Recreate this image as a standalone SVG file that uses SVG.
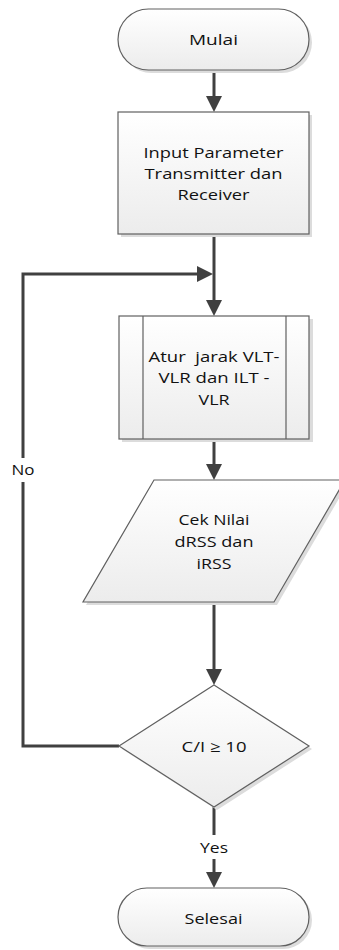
<svg xmlns="http://www.w3.org/2000/svg" width="339" height="950" viewBox="0 0 339 950">
<style>
.shape{fill:url(#g);stroke:#606060;stroke-width:1.2}
.shadow{fill:#dcdcdc}
.conn{fill:none;stroke:#404040;stroke-width:3}
.lbl{font-family:"Open Sans","Noto Sans",sans-serif;font-size:15px;fill:#111;text-anchor:middle}
</style>
<defs>
<linearGradient id="g" x1="0" y1="0" x2="0" y2="1">
<stop offset="0" stop-color="#ffffff"/>
<stop offset="1" stop-color="#ececec"/>
</linearGradient>
<marker id="ah" markerUnits="userSpaceOnUse" markerWidth="16" markerHeight="16" refX="12" refY="8" orient="auto">
<path d="M0,0 L16,8 L0,16 z" fill="#404040"/>
</marker>
</defs>
<rect width="339" height="950" fill="#fff"/>
<g id="connectors">
<line class="conn" x1="214" y1="70" x2="214" y2="108" marker-end="url(#ah)"/>
<line class="conn" x1="214" y1="234" x2="214" y2="312" marker-end="url(#ah)"/>
<path class="conn" d="M119,746 H23 V274 H209" marker-end="url(#ah)"/>
<line class="conn" x1="214" y1="439" x2="214" y2="476" marker-end="url(#ah)"/>
<line class="conn" x1="214" y1="602" x2="214" y2="681" marker-end="url(#ah)"/>
<line class="conn" x1="214" y1="807" x2="214" y2="884" marker-end="url(#ah)"/>
<rect x="8" y="458" width="32" height="24" fill="#fff"/>
<text class="lbl" x="23" y="475" textLength="23" lengthAdjust="spacingAndGlyphs">No</text>
<rect x="196" y="835" width="36" height="24" fill="#fff"/>
<text class="lbl" x="214" y="853" textLength="28" lengthAdjust="spacingAndGlyphs">Yes</text>
</g>
<g id="mulai">
<rect class="shadow" x="121" y="12" width="191" height="61" rx="30.5"/>
<rect class="shape" x="118" y="9" width="191" height="61" rx="30.5"/>
<text class="lbl" x="213.5" y="45" textLength="49" lengthAdjust="spacingAndGlyphs">Mulai</text>
</g>
<g id="input">
<rect class="shadow" x="121" y="115" width="191" height="122"/>
<rect class="shape" x="118" y="112" width="191" height="122"/>
<text class="lbl" x="213.5" y="157.5" textLength="140" lengthAdjust="spacingAndGlyphs">Input Parameter</text>
<text class="lbl" x="213.5" y="178.5" textLength="138" lengthAdjust="spacingAndGlyphs">Transmitter dan</text>
<text class="lbl" x="213.5" y="199.5" textLength="72" lengthAdjust="spacingAndGlyphs">Receiver</text>
</g>
<g id="atur">
<rect class="shadow" x="122" y="319" width="191" height="123"/>
<rect class="shape" x="119" y="316" width="190" height="123"/>
<line x1="143" y1="316" x2="143" y2="439" stroke="#606060" stroke-width="1.2"/>
<line x1="286" y1="316" x2="286" y2="439" stroke="#606060" stroke-width="1.2"/>
<text class="lbl" x="214" y="362" xml:space="preserve" textLength="131" lengthAdjust="spacingAndGlyphs">Atur  jarak VLT-</text>
<text class="lbl" x="214" y="383" textLength="111" lengthAdjust="spacingAndGlyphs">VLR dan ILT -</text>
<text class="lbl" x="214" y="405" textLength="31" lengthAdjust="spacingAndGlyphs">VLR</text>
</g>
<g id="cek">
<polygon class="shadow" points="157,483 348,483 277,605 86,605"/>
<polygon class="shape" points="154,480 345,480 274,602 83,602"/>
<text class="lbl" x="214" y="525" textLength="71" lengthAdjust="spacingAndGlyphs">Cek Nilai</text>
<text class="lbl" x="214" y="547" textLength="79" lengthAdjust="spacingAndGlyphs">dRSS dan</text>
<text class="lbl" x="214" y="569" textLength="35" lengthAdjust="spacingAndGlyphs">iRSS</text>
</g>
<g id="decision">
<polygon class="shadow" points="217,688 312,749 217,810 122,749"/>
<polygon class="shape" points="214,685 309,746 214,807 119,746"/>
<text class="lbl" x="214" y="752" textLength="65" lengthAdjust="spacingAndGlyphs">C/I ≥ 10</text>
</g>
<g id="selesai">
<rect class="shadow" x="121" y="891" width="191" height="58" rx="29"/>
<rect class="shape" x="118" y="888" width="191" height="58" rx="29"/>
<text class="lbl" x="213.5" y="924" textLength="58" lengthAdjust="spacingAndGlyphs">Selesai</text>
</g>
</svg>
